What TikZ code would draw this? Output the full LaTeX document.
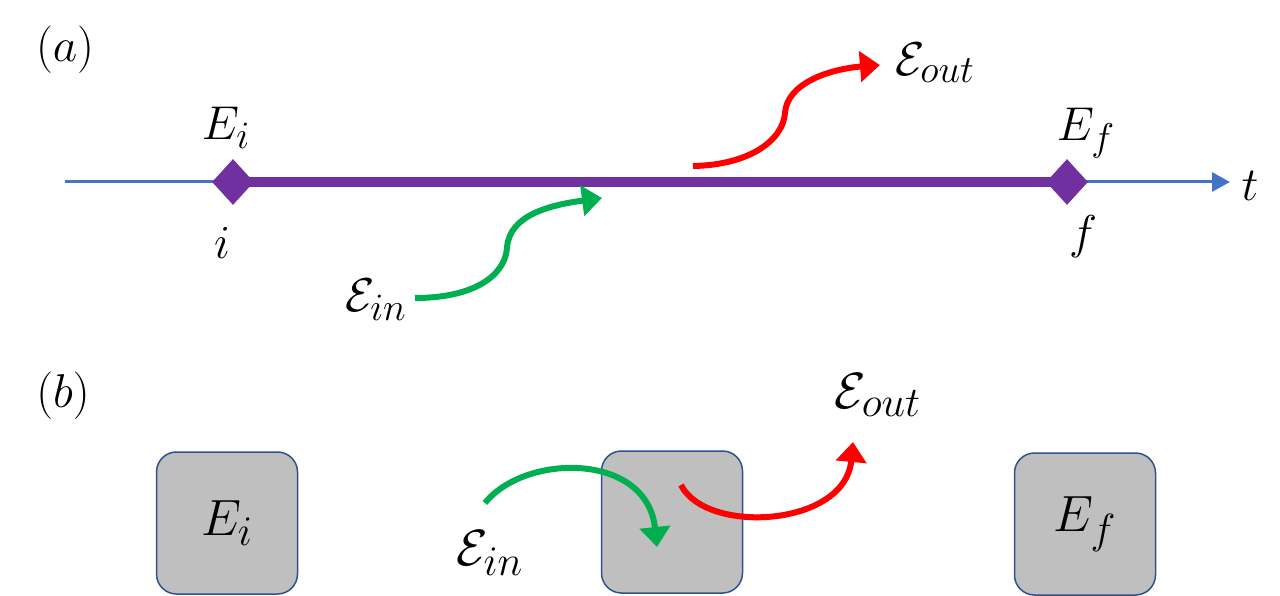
\documentclass[tikz,border=0pt]{standalone}
\usepackage{fix-cm}
\usetikzlibrary{arrows.meta,shapes.geometric}
\DeclareMathSizes{27}{27}{22}{18}
\DeclareMathSizes{29}{29}{24}{19}
\definecolor{axisblue}{RGB}{68,114,196}
\definecolor{statepurple}{RGB}{112,48,160}
\definecolor{ingreen}{RGB}{0,176,80}
\definecolor{outred}{RGB}{255,0,0}
\definecolor{boxgray}{RGB}{191,191,191}
\definecolor{boxedge}{RGB}{47,82,143}

\begin{document}
\begin{tikzpicture}[x=0.2mm, y=0.2mm,
		lbl/.style={font=\fontsize{27}{31}\selectfont, inner sep=0pt},
		biglbl/.style={font=\fontsize{29}{34}\selectfont, inner sep=0pt},
		state/.style={diamond, fill=statepurple, inner sep=0pt, minimum width=8.4mm, minimum height=9.2mm},
		level/.style={draw=boxedge, line width=0.3mm, fill=boxgray, rounded corners=4mm, minimum width=28.2mm, minimum height=28.4mm, inner sep=0pt, font=\fontsize{29}{34}\selectfont},
		photon/.style={line width=1.2mm, -{Triangle[length=4mm, width=6mm]}}]
			\useasboundingbox (0,0) rectangle (1280,595);
			% (a) time axis
			\coordinate (t0) at (65,413) ;
			\coordinate (t1) at (1230,413) ;
			\draw [axisblue, line width=0.6mm, -{Triangle[length=3.6mm, width=3.8mm]}] (t0) -- (t1) ;
			% states on the axis
			\node[state] (si) at (233,413) {} ;
			\node[state] (sf) at (1067,413) {} ;
			\draw [statepurple, line width=1.9mm] (si.center) -- (sf.center) ;
			% labels of (a)
			\node[lbl] (la) at (65,545) {$(a)$} ;
			\node[lbl] (ei) at (226,467) {$E_i$} ;
			\node[lbl] (ni) at (222,352) {$i$} ;
			\node[lbl] (ef) at (1086,462) {$E_f$} ;
			\node[lbl] (nf) at (1083,358) {$f$} ;
			\node[lbl] (nt) at (1250,409) {$t$} ;
			\node[lbl] (ina) at (376,295) {$\mathcal{E}_{in}$} ;
			\node[lbl] (outa) at (935,532) {$\mathcal{E}_{out}$} ;
			% photons of (a)
			\coordinate (ga0) at (415,297) ;
			\coordinate (ga1) at (602,397) ;
			\draw [photon, ingreen] (ga0) .. controls (475,297) and (505,320) .. (507,347) .. controls (509,380) and (550,390) .. (ga1) ;
			\coordinate (ra0) at (693,429) ;
			\coordinate (ra1) at (880,530) ;
			\draw [photon, outred] (ra0) .. controls (750,430) and (783,455) .. (785,482) .. controls (787,512) and (830,526) .. (ra1) ;
			% (b) levels
			\node[lbl] (lb) at (63,199) {$(b)$} ;
			\node[level] (bi) at (227,72) {$E_i$} ;
			\node[level] (bm) at (672,73) {} ;
			\node[level] (bf) at (1085,71) {$E_f$} ;
			\node[biglbl] (inb) at (490,42) {$\mathcal{E}_{in}$} ;
			\node[biglbl] (outb) at (878,200) {$\mathcal{E}_{out}$} ;
			% photons of (b)
			\coordinate (gb0) at (485,92) ;
			\coordinate (gb1) at (657,48) ;
			\draw [photon, ingreen] (gb0) .. controls (525,142) and (647,143) .. (gb1) ;
			\coordinate (rb0) at (681,110) ;
			\coordinate (rb1) at (853,153) ;
			\draw [photon, outred] (rb0) .. controls (706,60) and (845,68) .. (rb1) ;
		\end{tikzpicture}
\end{document}
